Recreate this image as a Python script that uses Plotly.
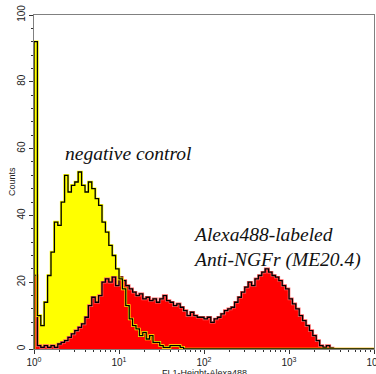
import numpy as np
import plotly.graph_objects as go

# Histogram channels: 100 bins of 0.04 decade from 10^0 to 10^4
bin_width_dec = 0.04
n_bins = 100

neg_control = [92, 10, 7, 14, 22, 29, 38, 37, 44, 52,
               47, 49, 50, 53, 49, 47, 50, 48, 45, 43,
               38, 35, 31, 28, 24, 21, 18, 13, 9, 7,
               6, 4, 5, 3, 4, 2, 2, 1, 0.5, 0.5,
               1, 1, 1, 0.5] + [0] * 56

anti_ngfr = [22, 1, 0.5, 1, 0.5, 1, 0.5, 1.5, 2, 2.5,
             3.5, 4.5, 5.5, 6.5, 7.5, 9.5, 13, 15.5, 14, 16,
             20, 21, 20, 21.5, 19, 21.5, 20.5, 19, 18, 17,
             16, 16.5, 15, 15.5, 14.5, 15, 14, 15, 16, 14.5,
             14, 13, 13.5, 12.5, 11.5, 10, 11, 10, 9.5, 9.5,
             9, 9.5, 8, 9, 9.5, 10.5, 11.5, 12, 12.5, 14,
             15.5, 17, 18.5, 20, 19, 21, 22, 23, 24, 23,
             22, 21.5, 20.5, 19, 18, 15, 13.5, 12, 10, 8.5,
             7, 5.5, 4, 2.5, 1, 0.5, 1, 0.3] + [0] * 12

x_tick_vals = [1, 10, 100, 1000, 10000]
x_tick_text = ["10<sup>0</sup>", "10<sup>1</sup>", "10<sup>2</sup>", "10<sup>3</sup>", "10<sup>4</sup>"]
y_tick_vals = [0, 20, 40, 60, 80, 100]

edges = 10 ** (np.arange(n_bins + 1) * bin_width_dec)


def step_xy(counts):
    xs = [edges[0]] + list(edges)
    ys = [0] + list(counts) + [counts[-1]]
    return xs, ys


xn, yn = step_xy(neg_control)
xa, ya = step_xy(anti_ngfr)

fig = go.Figure()
fig.add_trace(go.Scatter(x=xn, y=yn, mode="lines", line_shape="hv",
                         fill="tozeroy", fillcolor="#FFFF00",
                         line=dict(color="#FFFF00", width=0.5),
                         hoverinfo="skip", showlegend=False))
fig.add_trace(go.Scatter(x=xa, y=ya, mode="lines", line_shape="hv",
                         fill="tozeroy", fillcolor="#FF0000",
                         line=dict(color="#FF6060", width=2.6),
                         hoverinfo="skip", showlegend=False))
fig.add_trace(go.Scatter(x=xa, y=ya, mode="lines", line_shape="hv",
                         line=dict(color="#000000", width=1.3),
                         hoverinfo="skip", showlegend=False))
fig.add_trace(go.Scatter(x=xn, y=yn, mode="lines", line_shape="hv",
                         line=dict(color="#FFFF00", width=2.6),
                         hoverinfo="skip", showlegend=False))
fig.add_trace(go.Scatter(x=xn, y=yn, mode="lines", line_shape="hv",
                         line=dict(color="#000000", width=1.3),
                         hoverinfo="skip", showlegend=False))

minor_x = [m * 10 ** d for d in range(4) for m in range(2, 10)]

serif = "Times New Roman, Liberation Serif, serif"

fig.update_layout(
    width=376, height=374,
    margin=dict(l=34, r=2, t=15, b=25),
    paper_bgcolor="white", plot_bgcolor="white",
    font=dict(family="Liberation Sans", size=10, color="#222222"),
    xaxis=dict(type="log", range=[0, 4], tickmode="array",
               tickvals=x_tick_vals, ticktext=x_tick_text, automargin=False,
               ticklabeloverflow="allow",
               ticks="outside", ticklen=4, tickwidth=1, tickcolor="#333333",
               showgrid=False, zeroline=False,
               showline=True, linecolor="#808080", linewidth=1, mirror=True,
               tickfont=dict(size=10),
               minor=dict(tickmode="array", tickvals=minor_x, ticks="outside",
                          ticklen=2, tickcolor="#333333", showgrid=False)),
    yaxis=dict(range=[0, 100], tickmode="array", tickvals=y_tick_vals, automargin=False,
               ticks="outside", ticklen=4, tickwidth=1, tickcolor="#333333",
               tickangle=-90, tickfont=dict(size=10),
               showgrid=False, zeroline=False,
               showline=True, linecolor="#808080", linewidth=1, mirror=True,
               minor=dict(dtick=4, ticks="outside", ticklen=2,
                          tickcolor="#333333", showgrid=False)),
)

fig.add_annotation(text="negative control", xref="x", yref="y",
                   x=(63 - 34) / 85, y=(349 - 153) / 3.34,
                   xanchor="left", yanchor="middle", showarrow=False,
                   font=dict(family=serif, size=19.5, color="#111111", style="italic"))
fig.add_annotation(text="Alexa488-labeled<br>Anti-NGFr (ME20.4)", xref="x", yref="y",
                   x=(191 - 34) / 85, y=(349 - 247) / 3.34,
                   xanchor="left", yanchor="middle", align="left", showarrow=False,
                   font=dict(family=serif, size=19.5, color="#111111", style="italic"))
fig.add_annotation(text="FL1-Height-Alexa488", xref="paper", yref="paper",
                   x=0.5, y=0, yshift=-17, xanchor="center", yanchor="top",
                   showarrow=False, font=dict(size=9, color="#222222"))
fig.add_annotation(text="Counts", xref="paper", yref="paper",
                   x=0, y=0.5, xshift=-22, xanchor="center", yanchor="middle",
                   textangle=-90, showarrow=False, font=dict(size=9, color="#222222"))

fig.write_html("out.html", config={"displayModeBar": False},
               post_script="document.body.style.margin='0';document.body.style.padding='0';")
